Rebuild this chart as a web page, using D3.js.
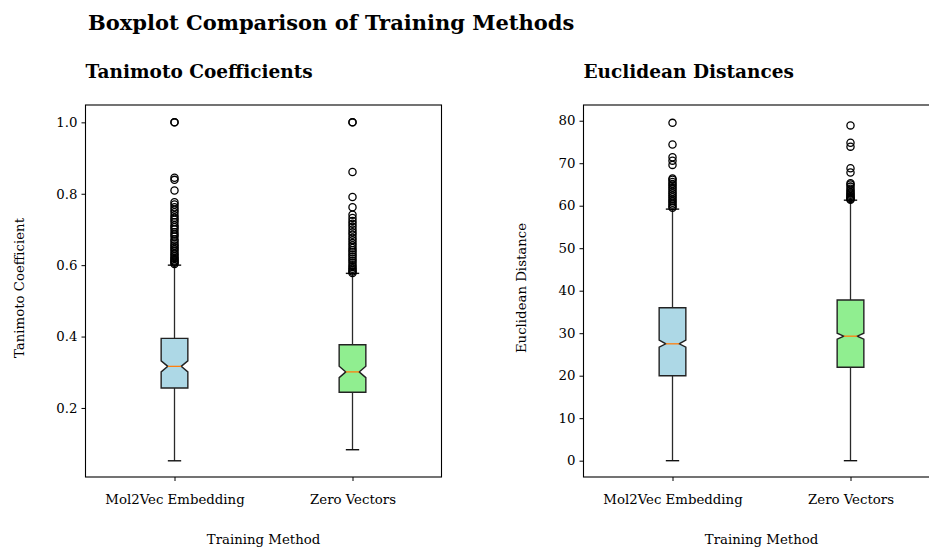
<!DOCTYPE html>
<html>
<head>
<meta charset="utf-8">
<script src="https://cdn.jsdelivr.net/npm/d3@7"></script>
<style>
  html, body { margin: 0; padding: 0; background: #fff; }
  svg { display: block; font-family: "DejaVu Serif", serif; }
</style>
</head>
<body>
<svg id="chart" width="929" height="548"></svg>
<script>
// Training methods compared in both panels
const methods = ["Mol2Vec Embedding", "Zero Vectors"];
const boxColors = ["#add8e6", "#90ee90"];

// Box statistics per method: [whiskerLow, q1, notchLow, median, notchHigh, q3, whiskerHigh]
const tanimotoStats = [
  [0.052, 0.256, 0.301, 0.3165, 0.332, 0.395, 0.600],
  [0.083, 0.244, 0.285, 0.301, 0.317, 0.377, 0.577]
];
const euclideanStats = [
  [0.0, 20.0, 26.7, 27.5, 28.4, 36.0, 59.2],
  [0.0, 22.0, 28.6, 29.3, 30.0, 37.8, 61.3]
];

// Points beyond the whiskers
const tanimotoOutliersMol2Vec = [0.603, 0.607, 0.61, 0.613, 0.617, 0.62, 0.625, 0.63, 0.634, 0.64,
  0.645, 0.65, 0.655, 0.66, 0.667, 0.672, 0.68, 0.686, 0.692, 0.70, 0.706, 0.712, 0.72, 0.727,
  0.733, 0.74, 0.748, 0.755, 0.762, 0.77, 0.776, 0.809, 0.839, 0.845, 1.0, 1.0];
const tanimotoOutliersZero = [0.578, 0.582, 0.586, 0.59, 0.595, 0.60, 0.606, 0.612, 0.618, 0.624,
  0.63, 0.636, 0.642, 0.648, 0.655, 0.662, 0.67, 0.677, 0.685, 0.692, 0.70, 0.708, 0.716, 0.724,
  0.732, 0.741, 0.762, 0.791, 0.861, 1.0, 1.0];
const euclideanOutliersMol2Vec = [59.5, 59.9, 60.3, 60.7, 61.1, 61.5, 62.0, 62.4, 62.9, 63.3, 63.8,
  64.2, 64.7, 65.1, 65.6, 66.1, 66.4, 69.6, 70.6, 71.4, 74.4, 79.5];
const euclideanOutliersZero = [61.4, 61.6, 61.8, 62.0, 62.3, 62.6, 62.9, 63.2, 63.6, 64.0, 64.5,
  65.0, 65.3, 67.8, 68.8, 73.9, 74.8, 78.9];

// Tick values on each y axis
const tanimotoTicks = [0.2, 0.4, 0.6, 0.8, 1.0];
const euclideanTicks = [0, 10, 20, 30, 40, 50, 60, 70, 80];

const svg = d3.select("#chart");

svg.append("text")
  .attr("x", 88).attr("y", 30)
  .attr("font-size", 21).attr("font-weight", "bold")
  .attr("fill", "#000")
  .text("Boxplot Comparison of Training Methods");

function drawPanel(cfg) {
  const { left, top, width, height, stats, outliers, ticks, yDomain, fmt, title, yLabel, yLabelX } = cfg;
  const g = svg.append("g");
  const x = d3.scaleLinear().domain([0.5, 2.5]).range([left, left + width]);
  const y = d3.scaleLinear().domain(yDomain).range([top + height, top]);
  const boxW = 0.15;

  // y axis
  const yAxis = g.append("g")
    .attr("transform", `translate(${left},0)`)
    .call(d3.axisLeft(y).tickValues(ticks).tickFormat(fmt).tickSize(4).tickPadding(4));
  yAxis.select(".domain").remove();
  yAxis.selectAll("text").attr("font-size", 13.3).attr("font-family", "DejaVu Serif").attr("fill", "#000");
  yAxis.selectAll("line").attr("stroke", "#000");

  // x axis
  const xAxis = g.append("g")
    .attr("transform", `translate(0,${top + height})`)
    .call(d3.axisBottom(x).tickValues([1, 2]).tickFormat((d, i) => methods[i]).tickSize(4).tickPadding(14));
  xAxis.select(".domain").remove();
  xAxis.selectAll("text").attr("font-size", 13.3).attr("font-family", "DejaVu Serif").attr("fill", "#000");
  xAxis.selectAll("line").attr("stroke", "#000");

  stats.forEach((s, i) => {
    const pos = i + 1;
    const [wLo, q1, nLo, med, nHi, q3, wHi] = s;
    const bl = x(pos - boxW / 2), br = x(pos + boxW / 2);
    const nl = x(pos - boxW / 4), nr = x(pos + boxW / 4);
    const cx = x(pos);

    // whiskers
    g.append("line").attr("x1", cx).attr("x2", cx).attr("y1", y(q1)).attr("y2", y(wLo))
      .attr("stroke", "#2a2a2a").attr("stroke-width", 1.3);
    g.append("line").attr("x1", cx).attr("x2", cx).attr("y1", y(q3)).attr("y2", y(wHi))
      .attr("stroke", "#2a2a2a").attr("stroke-width", 1.3);
    // caps
    [wLo, wHi].forEach(v => {
      g.append("line").attr("x1", nl).attr("x2", nr).attr("y1", y(v)).attr("y2", y(v))
        .attr("stroke", "#111").attr("stroke-width", 1.4);
    });

    // notched box
    const path = d3.path();
    path.moveTo(bl, y(q1));
    path.lineTo(bl, y(nLo));
    path.lineTo(nl, y(med));
    path.lineTo(bl, y(nHi));
    path.lineTo(bl, y(q3));
    path.lineTo(br, y(q3));
    path.lineTo(br, y(nHi));
    path.lineTo(nr, y(med));
    path.lineTo(br, y(nLo));
    path.lineTo(br, y(q1));
    path.closePath();
    g.append("path").attr("d", path.toString())
      .attr("fill", boxColors[i]).attr("stroke", "#222").attr("stroke-width", 1.4);

    // median
    g.append("line").attr("x1", nl).attr("x2", nr).attr("y1", y(med)).attr("y2", y(med))
      .attr("stroke", "#ff7f0e").attr("stroke-width", 1.3);

    // outliers
    g.selectAll(null).data(outliers[i]).enter().append("circle")
      .attr("cx", cx).attr("cy", d => y(d)).attr("r", 3.6)
      .attr("fill", "none").attr("stroke", "#000").attr("stroke-width", 1.3);
  });

  // frame
  g.append("rect").attr("x", left).attr("y", top).attr("width", width).attr("height", height)
    .attr("fill", "none").attr("stroke", "#000").attr("stroke-width", 1.1);

  // panel title
  g.append("text").attr("x", left).attr("y", 78)
    .attr("font-size", 18.5).attr("font-weight", "bold").attr("fill", "#000")
    .text(title);

  // axis labels
  g.append("text")
    .attr("transform", `translate(${yLabelX},${top + height / 2 - 3}) rotate(-90)`)
    .attr("text-anchor", "middle").attr("font-size", 13.3).attr("fill", "#000")
    .text(yLabel);
  g.append("text")
    .attr("x", left + width / 2).attr("y", 544)
    .attr("text-anchor", "middle").attr("font-size", 13.3).attr("fill", "#000")
    .text("Training Method");
}

drawPanel({
  left: 85.5, top: 105, width: 356, height: 372,
  stats: tanimotoStats,
  outliers: [tanimotoOutliersMol2Vec, tanimotoOutliersZero],
  ticks: tanimotoTicks, yDomain: [0.0066, 1.0486], fmt: d3.format(".1f"),
  title: "Tanimoto Coefficients", yLabel: "Tanimoto Coefficient", yLabelX: 24
});

drawPanel({
  left: 583.5, top: 105, width: 356, height: 372,
  stats: euclideanStats,
  outliers: [euclideanOutliersMol2Vec, euclideanOutliersZero],
  ticks: euclideanTicks, yDomain: [-3.84, 83.7], fmt: d3.format("d"),
  title: "Euclidean Distances", yLabel: "Euclidean Distance", yLabelX: 526
});
</script>
</body>
</html>
